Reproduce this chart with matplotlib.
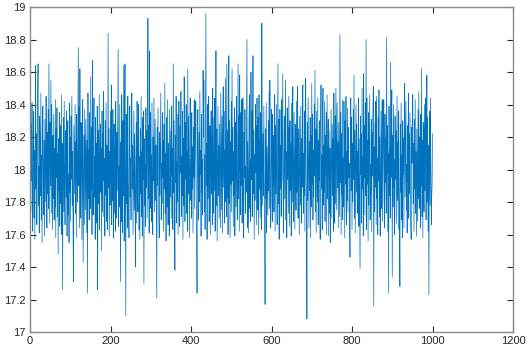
import matplotlib
matplotlib.use("Agg")
import matplotlib.pyplot as plt
from matplotlib.ticker import FuncFormatter
import numpy as np

# signal values, samples 1..1000 in blocks of 100
seg01 = [18.05, 17.74, 18.28, 17.93, 18.41, 17.62, 17.81, 18.19, 18.36, 17.70,
         18.12, 17.57, 18.30, 18.64, 17.88, 18.22, 17.66, 17.96, 18.44, 18.65,
         17.78, 18.02, 17.61, 18.33, 18.15, 17.84, 18.47, 17.69, 18.09, 17.55,
         18.26, 18.39, 17.91, 17.72, 18.18, 17.59, 18.31, 18.06, 17.80, 18.45,
         17.98, 17.64, 18.23, 17.85, 18.37, 17.76, 18.65, 18.14, 17.67, 18.29,
         17.90, 18.55, 17.73, 18.40, 18.08, 17.63, 18.21, 17.82, 18.34, 17.69,
         18.13, 17.77, 18.43, 17.58, 18.25, 17.95, 18.38, 17.71, 18.10, 17.48,
         18.19, 17.87, 18.35, 17.65, 18.04, 18.27, 17.79, 18.46, 17.60, 18.16,
         17.26, 18.01, 18.32, 17.74, 18.42, 17.89, 17.66, 18.24, 18.07, 17.83,
         18.36, 17.59, 18.12, 18.30, 17.72, 17.97, 17.55, 18.41, 17.86, 18.20]
seg02 = [17.68, 18.33, 17.94, 18.45, 17.78, 18.11, 17.62, 17.31, 18.27, 18.06,
         17.85, 18.40, 17.73, 18.17, 17.58, 18.34, 18.02, 17.80, 18.23, 18.75,
         17.90, 18.38, 17.64, 18.62, 17.96, 17.70, 18.29, 18.14, 17.57, 18.09,
         18.43, 17.43, 17.87, 18.21, 17.66, 18.37, 18.05, 17.75, 18.31, 17.92,
         17.61, 18.18, 17.24, 18.47, 17.82, 18.12, 17.69, 18.35, 17.99, 17.76,
         18.57, 17.88, 18.26, 17.60, 18.67, 17.95, 17.72, 18.20, 18.44, 17.83,
         18.08, 17.57, 18.32, 17.91, 18.16, 17.67, 18.39, 17.26, 17.98, 18.24,
         17.79, 18.46, 17.63, 18.03, 18.28, 17.86, 18.13, 17.50, 18.36, 17.74,
         18.22, 17.93, 18.48, 17.71, 18.07, 17.59, 18.30, 17.84, 18.41, 17.68,
         18.15, 17.97, 17.63, 18.84, 17.89, 18.25, 17.59, 18.11, 17.78, 18.36]
seg03 = [17.92, 18.52, 17.66, 18.19, 17.81, 18.37, 17.58, 18.05, 18.28, 17.73,
         18.14, 17.62, 18.42, 17.95, 17.70, 18.23, 17.87, 18.33, 18.74, 17.65,
         18.02, 17.77, 18.40, 17.90, 17.31, 18.17, 17.68, 18.46, 18.09, 17.61,
         18.30, 17.84, 18.64, 17.56, 18.21, 18.65, 17.93, 17.10, 18.34, 17.79,
         18.12, 17.64, 18.45, 17.98, 17.72, 17.58, 18.26, 18.39, 17.83, 18.07,
         17.69, 18.31, 18.47, 17.88, 18.15, 17.60, 17.96, 18.36, 17.75, 18.22,
         17.86, 17.40, 18.04, 18.29, 17.67, 18.42, 17.91, 17.74, 18.18, 18.40,
         17.63, 18.08, 17.57, 18.25, 17.85, 18.45, 17.71, 18.11, 17.59, 18.32,
         17.94, 18.36, 17.30, 18.19, 17.78, 18.03, 17.65, 18.38, 17.89, 18.24,
         17.70, 18.13, 18.93, 17.82, 18.27, 17.61, 18.73, 17.97, 18.35, 17.76]
seg04 = [18.09, 17.68, 18.41, 17.87, 17.60, 18.20, 17.93, 18.44, 17.74, 18.06,
         18.31, 17.81, 18.15, 17.64, 17.21, 18.26, 17.90, 18.38, 18.01, 17.72,
         17.58, 18.23, 17.84, 18.12, 18.47, 17.69, 18.04, 17.79, 18.35, 17.95,
         18.18, 17.62, 18.28, 17.88, 18.53, 17.73, 18.10, 17.56, 18.32, 18.00,
         17.77, 18.43, 17.66, 18.16, 17.91, 17.59, 18.37, 18.07, 17.83, 18.24,
         17.70, 18.39, 17.97, 18.13, 17.63, 18.65, 17.86, 18.30, 17.75, 17.38,
         18.21, 17.92, 18.45, 17.67, 18.05, 17.80, 18.34, 17.60, 18.17, 18.42,
         17.89, 17.65, 18.27, 17.98, 18.48, 17.71, 18.08, 17.84, 18.36, 17.57,
         18.19, 17.78, 18.57, 18.02, 17.68, 18.29, 17.94, 18.40, 17.73, 18.11,
         17.62, 18.62, 17.85, 18.33, 17.96, 17.58, 18.22, 18.44, 17.81, 18.06]
seg05 = [17.70, 18.35, 17.88, 18.14, 17.61, 18.26, 17.95, 18.43, 17.76, 18.03,
         18.31, 18.42, 17.83, 17.64, 17.24, 18.18, 18.37, 17.91, 17.69, 18.23,
         17.80, 18.48, 17.97, 18.12, 17.59, 18.34, 17.86, 18.06, 17.72, 18.61,
         18.20, 18.55, 17.74, 18.09, 17.63, 18.29, 18.96, 17.90, 18.16, 17.57,
         18.40, 17.82, 18.04, 18.45, 17.68, 17.93, 18.27, 17.60, 18.13, 18.36,
         17.85, 18.21, 17.66, 18.50, 17.99, 17.73, 18.32, 17.87, 18.44, 17.62,
         18.10, 18.73, 17.78, 18.25, 17.56, 18.02, 18.39, 17.84, 18.15, 17.70,
         18.28, 17.92, 17.64, 18.47, 18.07, 17.75, 18.33, 17.61, 18.19, 18.51,
         17.89, 18.36, 17.67, 18.12, 17.80, 18.56, 17.96, 17.71, 18.65, 17.83,
         18.24, 17.60, 18.05, 18.70, 17.79, 18.30, 17.58, 18.17, 17.91, 18.42]
seg06 = [17.74, 18.62, 17.93, 18.26, 17.65, 18.11, 17.84, 18.38, 17.59, 18.05,
         18.29, 17.77, 18.45, 17.97, 17.69, 18.20, 18.65, 17.82, 18.33, 17.62,
         18.58, 18.08, 17.72, 18.35, 17.90, 18.43, 17.67, 18.14, 18.44, 17.79,
         17.58, 18.23, 17.95, 18.37, 17.73, 18.02, 17.86, 18.31, 18.80, 17.64,
         18.17, 17.89, 17.61, 18.28, 18.46, 17.76, 18.06, 17.68, 18.60, 17.94,
         18.36, 17.71, 18.13, 18.70, 17.85, 18.24, 17.57, 18.09, 17.81, 18.40,
         17.98, 18.27, 17.66, 18.44, 18.03, 17.75, 18.32, 17.60, 18.46, 17.88,
         18.19, 17.70, 18.35, 17.92, 17.63, 18.90, 18.10, 17.78, 18.22, 17.84,
         18.39, 17.96, 17.69, 17.17, 18.25, 17.82, 18.41, 17.61, 18.14, 17.93,
         17.72, 18.30, 17.87, 18.48, 17.76, 18.55, 18.01, 17.64, 17.83, 18.37]
seg07 = [18.12, 17.68, 18.34, 17.90, 18.21, 17.74, 18.04, 18.46, 17.62, 18.27,
         17.85, 18.40, 17.96, 17.66, 18.18, 18.65, 17.79, 18.31, 17.57, 18.09,
         18.37, 17.88, 18.15, 17.71, 18.43, 17.93, 18.24, 18.59, 17.76, 17.61,
         18.06, 18.33, 17.82, 18.20, 18.55, 17.69, 18.11, 17.58, 18.38, 17.94,
         18.26, 17.73, 18.45, 18.02, 17.65, 18.30, 17.87, 18.16, 17.59, 18.41,
         17.80, 18.22, 18.51, 17.91, 17.68, 18.35, 17.97, 17.63, 18.28, 18.07,
         17.75, 18.42, 17.86, 18.14, 18.51, 17.70, 18.25, 17.92, 17.60, 18.33,
         18.05, 17.78, 18.39, 17.67, 18.19, 17.89, 18.47, 18.52, 17.73, 18.10,
         17.84, 18.36, 17.62, 18.23, 18.56, 17.95, 17.71, 17.08, 18.29, 17.81,
         18.44, 17.99, 17.64, 18.17, 17.87, 18.32, 17.58, 18.21, 17.77, 18.53]
seg08 = [17.91, 18.34, 17.69, 18.12, 17.83, 18.40, 17.96, 18.61, 17.74, 18.25,
         17.61, 18.36, 18.05, 17.80, 18.44, 17.66, 18.18, 17.93, 18.30, 17.72,
         17.57, 18.27, 18.52, 17.88, 18.09, 17.63, 18.39, 18.50, 17.78, 18.15,
         17.86, 18.42, 17.68, 18.21, 17.97, 18.35, 17.60, 18.46, 17.82, 18.03,
         18.31, 17.59, 18.24, 17.73, 18.13, 17.55, 17.90, 18.37, 18.06, 17.70,
         18.28, 17.84, 18.19, 17.62, 18.47, 17.94, 17.67, 18.33, 17.79, 18.50,
         18.08, 17.75, 18.41, 17.89, 18.17, 17.64, 18.29, 17.98, 17.71, 18.83,
         17.92, 18.35, 17.60, 18.22, 17.85, 18.43, 17.69, 18.07, 17.77, 18.42,
         18.14, 17.58, 18.30, 17.91, 18.45, 17.66, 18.11, 17.81, 18.38, 17.74,
         18.26, 17.95, 18.04, 17.68, 17.46, 18.20, 18.44, 17.87, 18.32, 17.63]
seg09 = [18.16, 17.80, 18.37, 17.94, 18.58, 17.70, 18.24, 17.61, 18.05, 18.40,
         17.86, 18.28, 17.73, 18.11, 17.90, 18.44, 17.65, 18.19, 17.83, 17.39,
         18.33, 17.97, 18.22, 17.67, 18.50, 17.88, 18.08, 17.59, 18.59, 17.95,
         18.27, 17.72, 18.41, 17.84, 18.80, 17.63, 18.44, 17.91, 18.18, 17.56,
         18.35, 17.78, 18.12, 18.46, 17.69, 18.03, 17.85, 18.31, 17.62, 18.23,
         17.96, 18.38, 18.51, 17.16, 18.14, 17.74, 18.29, 17.89, 18.42, 17.66,
         18.45, 17.82, 18.07, 17.60, 18.32, 17.93, 18.49, 17.71, 18.20, 17.59,
         17.87, 18.36, 17.76, 18.15, 18.43, 17.68, 18.01, 18.25, 18.43, 17.80,
         17.64, 18.34, 17.92, 18.19, 17.73, 18.81, 17.98, 18.27, 17.62, 18.10,
         17.24, 18.39, 17.84, 18.13, 17.70, 18.66, 17.95, 18.30, 18.49, 17.34]
seg10 = [18.21, 17.77, 18.40, 17.89, 18.06, 17.60, 18.33, 17.94, 18.24, 17.67,
         18.12, 18.45, 17.81, 18.17, 17.63, 18.36, 17.90, 17.72, 17.28, 18.28,
         17.86, 18.41, 17.69, 18.09, 17.58, 18.30, 17.97, 18.19, 17.64, 18.38,
         18.53, 17.83, 18.14, 18.42, 17.75, 18.03, 17.61, 18.27, 17.92, 18.47,
         17.70, 18.22, 17.85, 18.35, 17.96, 17.66, 17.57, 18.26, 18.04, 18.39,
         18.46, 17.79, 18.16, 17.62, 18.31, 17.88, 18.43, 17.73, 18.11, 17.59,
         18.25, 17.93, 17.68, 18.37, 17.82, 18.48, 17.76, 18.20, 18.02, 17.64,
         18.34, 17.90, 18.62, 17.71, 18.18, 17.58, 18.29, 17.97, 17.74, 18.40,
         17.87, 18.23, 18.44, 17.69, 18.08, 18.58, 17.80, 18.32, 17.62, 18.15,
         17.23, 17.94, 18.36, 17.78, 18.44, 18.05, 17.66, 17.83, 17.91, 18.22]

y = np.concatenate([seg01, seg02, seg03, seg04, seg05,
                    seg06, seg07, seg08, seg09, seg10])
x = np.arange(1, len(y) + 1)

plt.rcParams['font.family'] = ['Liberation Sans', 'DejaVu Sans']

fig = plt.figure(figsize=(5.29, 3.61), dpi=100)
ax = fig.add_axes([30/529, 29/361, 483/529, 325/361])

ax.plot(x, y, color='#0072BD', linewidth=0.5)

ax.set_xlim(0, 1200)
ax.set_ylim(17, 19)
ax.set_xticks(np.arange(0, 1201, 200))
ax.set_yticks(np.arange(17, 19.01, 0.2))
ax.yaxis.set_major_formatter(FuncFormatter(lambda v, p: '%g' % round(v, 1)))

for s in ax.spines.values():
    s.set_color('#8c8c8c')
    s.set_linewidth(1.0)
ax.tick_params(direction='in', length=4, width=0.8, color='#262626',
               labelsize=8, labelcolor='#262626', top=True, right=True,
               pad=3)

fig.savefig('out.png', dpi=100)
